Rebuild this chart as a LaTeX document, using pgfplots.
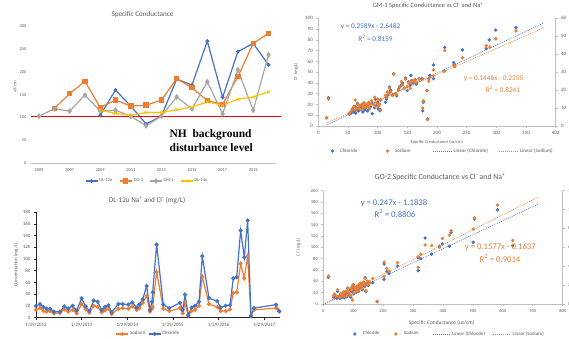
\documentclass[border=0pt]{standalone}
\usepackage{fontspec}
\setmainfont{Carlito}
\newfontfamily\nhfont{Liberation Serif}
\usepackage{pgfplots}
\usepackage{pgfplotstable}
\pgfplotsset{compat=1.18}

\definecolor{xblue}{HTML}{4472C4}
\definecolor{xorange}{HTML}{ED7D31}
\definecolor{xgray}{HTML}{A5A5A5}
\definecolor{xyellow}{HTML}{FFC000}
\definecolor{txt}{HTML}{595959}
\definecolor{lgray}{HTML}{BFBFBF}
\definecolor{xred}{HTML}{FF0000}

\newcommand\fs[1]{\fontsize{#1}{#1}\selectfont}

% OL-12u sampling record: time (decimal year, 2012 = 1/29/2012), chloride, sodium (mg/L)
\pgfplotstableread{
t cl na
2012.000 20 13
2012.088 23 16
2012.161 18 11
2012.234 15 10
2012.307 15 11
2012.394 10 7
2012.526 10 8
2012.620 19 14
2012.708 15 10
2012.803 20 13
2012.891 12 7
2013.000 33 23
2013.088 19 14
2013.168 11 8
2013.263 29 20
2013.350 27 18
2013.438 13 9
2013.511 18 12
2013.584 21 15
2013.657 9 6
2013.803 23 15
2013.898 23 16
2014.022 22 15
2014.109 26 19
2014.204 17 13
2014.263 22 16
2014.336 31 25
2014.423 54 37
2014.496 13 10
2014.540 27 15
2014.555 43 18
2014.642 125 78
2014.788 22 15
2014.920 16 11
2015.153 25 16
2015.212 13 7
2015.263 39 24
2015.336 4 3
2015.409 17 11
2015.482 20 13
2015.569 27 20
2015.642 105 70
2015.788 33 23
2015.970 28 18
2016.044 17 11
2016.154 20 11
2016.248 21 14
2016.320 67 42
2016.395 69 43
2016.482 149 92
2016.561 103 67
2016.635 166 105
2016.708 3 3
2016.774 16 13
2017.255 22 16
2017.327 11 10
}\olTable

% GM-1: specific conductance (us/cm) vs chloride (mg/L)
\pgfplotstableread{
sc cl
14 7.7
17 26.3
52 11
55 12
57 14
58 16
60 13
62 18
63 12
65 15
66 21
68 14
70 17
72 16
73 19
75 13
76 18
77 21
78 15
80 17
82 19
83 14
85 22
86 16
88 18
90 21
91 11.5
93 20
95 17
96 25
98 19
100 22
101 16
103 20
104 14
105 24
113 22
115 25
116 28
118 31
120 36
122 33
125 29
127 48.5
130 30
132 28
135 34
137 36
140 38
142 40
145 35
147 44.5
150 33
152 41
155 38
156 47
158 42
160 40
163 43
165 39
170 44
175 44
176 14
177 22
183 33
184 6.5
186 44
188 47
194 56.7
194 44
212 51
213 73
228 59
230 57
243 70.6
283 71.8
288 80
299 89
333 91.3
}\gmCl

% GM-1: specific conductance (us/cm) vs sodium (mg/L)
\pgfplotstableread{
sc na
14 4.6
17 15
52 7
55 8
57 9.5
60 11
62 14.5
63 9
65 10
66 12
68 10
70 11.5
72 9
73 12
75 11
76 10
77 13
78 12
80 10.5
82 12
83 11
85 13
86 10
88 12
90 14
93 12
95 16
96 11
98 13
100 15
101 11
103 12
105 9
105 14.5
113 17
115 16
116 19
118 18
120 21
122 19
125 17
127 28.8
130 18
132 17.5
135 20
137 22
140 24.8
142 23
145 21
147 26
150 22
152 24
155 21
156 25
158 24
160 25
163 26
165 24.5
170 26
175 26
176 10
177 14
183 19.6
184 3.6
186 25
188 27
194 31.2
194 28
212 30.5
213 42
228 34
230 33
243 38
283 44.7
289 44
299 48.6
333 53
}\gmNa

% GO-2: specific conductance (us/cm) vs chloride (mg/L)
\pgfplotstableread{
sc cl
16.7 47
35 12
38 15
45 10
48 22
50 13
55 10
58 16
62 12
65 14
68 19
70 11
72 16
75 20
78 13
80 22
82 28
85 18
88 15
90 25
92 12
95 22
97 30
100 34
100 26
102 18
105 28
108 24
110 21
112 30
115 26
118 22
120 32
122 28
125 36
128 30
130 25
132 34
135 38
138 31
140 46.5
142 22
145 35
148 40
150 33
155 38
165 37.6
180 4
203 70.6
203 43.5
212 57
220 54
248 67
317 58.8
317 81.8
326 80
340 116.5
362 88
388 102
398 106
421 102
427 126
501 109
505 150
582 166
633 103
}\goCl

% GO-2: specific conductance (us/cm) vs sodium (mg/L)
\pgfplotstableread{
sc na
16.7 29.6
35 9
38 10.5
45 8
48 15
50 8
55 7
58 11
62 8.5
65 10
68 13
70 8
72 12
75 13.5
78 9
80 14
82 17
85 12
88 10
90 16
92 9
95 15
97 18.5
98 4.2
100 20
102 12
105 17
108 15.5
110 13
112 19
115 16
118 14
120 21
122 18
125 22
128 19
130 16
132 21
135 23
138 20
140 27
142 14
145 22
148 24
150 21
155 23
165 27
180 2.8
203 44.5
203 29
212 37.8
220 35
248 43.8
317 38.8
317 50
326 52.6
340 62.5
362 62
388 60
398 69.5
421 73
427 77.6
501 79.4
505 91.4
582 104.8
633 67.4
}\goNa

\pgfplotsset{
  every axis/.append style={scale only axis,
    /pgf/number format/assume math mode=true},
  legline/.style={legend image code/.code={%
    \path[draw=none, fill=none] (0bp,-1bp) rectangle (12bp,1bp);
    \draw[mark repeat=2,mark phase=2] plot coordinates {(0bp,0bp) (6bp,0bp) (12bp,0bp)};}},
  trendimg/.style={legend image code/.code={\draw (0bp,0bp) -- (#1,0bp);}},
  flatlegend/.style={legend style={draw=none, fill=none, inner sep=0pt, outer sep=0pt,
    nodes={inner sep=0pt}, text=txt,
    /tikz/every even column/.append style={column sep=0pt}}},
  scatterpt/.style={only marks, mark=*, mark size=1.5bp, mark options={draw=#1, fill=#1}},
  trend/.style={#1, line width=0.6bp, dash pattern=on 1bp off 1bp},
}

\begin{document}
\begin{tikzpicture}[x=1bp,y=1bp]
\path[use as bounding box] (0bp,0bp) rectangle (569bp,339bp);

% ---------- Specific Conductance by well ----------
\begin{axis}[anchor=south west, at={(31.35bp,175.7bp)}, width=244.8bp, height=137.3bp,
  xmin=2004.5, xmax=2020.5, ymin=0, ymax=300,
  xtick={2005,2007,...,2019}, ytick={0,50,...,300},
  /pgf/number format/1000 sep={},
  axis x line=bottom, axis y line=left, axis line style={-},
  x axis line style={draw=lgray, line width=0.6bp}, y axis line style={draw=none},
  major tick length=0pt,
  tick label style={font=\fs{4.4}, text=txt},
  xticklabel style={yshift=-1.5bp}, yticklabel style={xshift=-1.5bp},
  clip=false, legline, flatlegend,
  legend columns=4,
  legend style={at={(0.219,-0.129)}, anchor=west, font=\fs{4.5}},
  legend entries={\makebox[21bp][l]{\hspace{1bp}OL-12u}, \makebox[17bp][l]{\hspace{1.5bp}GO-2},
    \makebox[18bp][l]{\hspace{1bp}GM-1}, \makebox[14bp][l]{\hspace{0.5bp}OL-14u}},
]
\addplot[xblue, line width=1.2bp, mark=*, mark size=1.3bp] coordinates {
  (2009,105) (2010,160) (2011,125) (2012,86) (2013,103) (2014,184) (2015,171)
  (2016,267) (2017,144) (2018,244) (2019,262) (2020,215)};
\addplot[xorange, line width=1.2bp, mark=square*, mark size=2.1bp] coordinates {
  (2006,120) (2007,152) (2008,179) (2009,122) (2010,138) (2011,125) (2012,127)
  (2013,138) (2014,185) (2015,165) (2016,137) (2017,129) (2018,189) (2019,262) (2020,284)};
\addplot[xgray, line width=1.2bp, mark=diamond*, mark size=2bp] coordinates {
  (2005,103) (2006,119) (2007,114) (2008,149) (2009,114) (2010,116) (2011,103)
  (2012,82) (2013,103) (2014,145) (2015,119) (2016,178) (2017,108) (2018,204)
  (2019,116) (2020,237)};
\addplot[xyellow, line width=1.2bp, mark=x, mark size=1.9bp, mark options={line width=0.8bp}] coordinates {
  (2009,116) (2010,109) (2011,105) (2012,111) (2013,111) (2014,117) (2015,123)
  (2016,134) (2017,127) (2018,140) (2019,145) (2020,156)};
% background disturbance level
\addplot[xred, line width=1.3bp, forget plot] coordinates {(2004.45,102) (2020.82,102)};
\end{axis}
\node[font=\fs{7.2}, text=txt] at (142.5bp,324.7bp) {Specific Conductance};
\node[font=\fs{4.5}, text=txt, rotate=90] at (15bp,252bp) {uS/cm};
\node[font=\nhfont\bfseries\fs{11.5}, anchor=west, inner sep=0pt] at (169.5bp,204bp) {NH\ \ background};
\node[font=\nhfont\bfseries\fs{11.5}, anchor=west, inner sep=0pt] at (169.5bp,191bp) {disturbance level};

% ---------- OL-12u sodium and chloride ----------
\begin{axis}[anchor=south west, at={(36bp,21.5bp)}, width=244.3bp, height=105.2bp,
  xmin=2012, xmax=2017.35, ymin=0, ymax=180,
  xtick={2012,...,2017},
  xticklabels={1/29/2012,1/29/2013,1/29/2014,1/29/2015,1/29/2016,1/29/2017},
  ytick={0,20,...,180},
  axis lines=left, axis line style={-, draw=black!85, line width=0.6bp},
  tick align=outside, major tick length=2bp, tick style={black!85, line width=0.6bp},
  tick label style={font=\fs{5}, text=txt},
  legline, flatlegend, legend columns=2,
  legend style={at={(0.327,-0.157)}, anchor=west, font=\fs{5}},
  legend entries={\makebox[19bp][l]{\hspace{1bp}Sodium}, \makebox[24bp][l]{\hspace{1bp}Chloride}},
]
\addplot[xorange, line width=1.2bp, mark=*, mark size=1.4bp] table[x=t, y=na] {\olTable};
\addplot[xblue, line width=1.2bp, mark=*, mark size=1.4bp] table[x=t, y=cl] {\olTable};
\end{axis}
\node[font=\fs{7.2}, text=txt] at (147bp,138.3bp) {OL-12u Na\textsuperscript{+} and Cl\textsuperscript{-} (mg/L)};
\node[font=\fs{5}, text=txt, rotate=90] at (16bp,74bp) {Concentration (mg/L)};

% ---------- GM-1 conductance vs chloride (left axis) ----------
\begin{axis}[anchor=south west, at={(318.3bp,213bp)}, width=237.4bp, height=107.7bp,
  xmin=0, xmax=400, ymin=0, ymax=100,
  xtick={0,50,...,400}, ytick={0,10,...,100},
  axis x line=bottom, axis y line=left, axis line style={-, draw=lgray, line width=0.6bp},
  tick align=outside, major tick length=2bp, tick style={lgray, line width=0.6bp},
  tick label style={font=\fs{5}, text=txt},
  legline, flatlegend, legend columns=4,
  legend style={at={(0.035,-0.232)}, anchor=west, font=\fs{5.1}},
  legend entries={\makebox[43bp][l]{\hspace{1.5bp}Chloride}, \makebox[39.5bp][l]{\hspace{1.5bp}Sodium},
    \makebox[47bp][l]{\hspace{1.5bp}Linear (Chloride)}, \makebox[40bp][l]{\hspace{2bp}Linear (Sodium)}},
]
\addplot[scatterpt=xblue] table[x=sc, y=cl] {\gmCl};
\addlegendimage{scatterpt=xorange}
\addplot[trend=xblue, trendimg=18.4bp] coordinates {(14,0.9764) (380,95.7338)};
\addlegendimage{trend=xorange, trendimg=18.4bp}
\end{axis}
% ---------- GM-1 conductance vs sodium (right axis) ----------
\begin{axis}[anchor=south west, at={(318.3bp,213bp)}, width=237.4bp, height=107.7bp,
  xmin=0, xmax=400, ymin=0, ymax=60, ytick={0,10,...,60},
  axis x line=none, axis y line=right, axis line style={-, draw=lgray, line width=0.6bp},
  tick align=outside, major tick length=2bp, tick style={lgray, line width=0.6bp},
  tick label style={font=\fs{5}, text=txt},
]
\addplot[scatterpt=xorange] table[x=sc, y=na] {\gmNa};
\addplot[trend=xorange] coordinates {(14,1.7889) (380,54.7125)};
\end{axis}
\node[font=\fs{6.5}, text=txt] at (428bp,333.3bp) {GM-1 Specific Conductance vs Cl\textsuperscript{-} and Na\textsuperscript{+}};
\node[font=\fs{4.4}, text=txt] at (436.7bp,196.7bp) {Specific Conductance (us/cm)};
\node[font=\fs{4.4}, text=txt, rotate=90] at (296bp,267.3bp) {Cl\textsuperscript{-} (mg/L)};
\node[font=\fs{7.3}, text=xblue] at (370.5bp,312.3bp) {y = 0.2589x - 2.6482};
\node[font=\fs{7.3}, text=xblue] at (375.5bp,301bp) {R\textsuperscript{2} = 0.8159};
\node[font=\fs{7.3}, text=xorange] at (493.5bp,260bp) {y = 0.1446x - 0.2355};
\node[font=\fs{7.3}, text=xorange] at (503bp,249.7bp) {R\textsuperscript{2} = 0.8241};

% ---------- GO-2 conductance vs chloride (left axis) ----------
\begin{axis}[anchor=south west, at={(323.3bp,35bp)}, width=239.4bp, height=113.3bp,
  xmin=0, xmax=800, ymin=0, ymax=200,
  xtick={0,100,...,800}, ytick={0,20,...,200},
  axis x line=bottom, axis y line=left, axis line style={-, draw=lgray, line width=0.6bp},
  tick align=outside, major tick length=2bp, tick style={lgray, line width=0.6bp},
  tick label style={font=\fs{4.5}, text=txt},
  legline, flatlegend, legend columns=4,
  legend style={at={(0.107,-0.265)}, anchor=west, font=\fs{4.9}},
  legend entries={\makebox[29bp][l]{\hspace{2bp}Chloride}, \makebox[30.5bp][l]{\hspace{2bp}Sodium},
    \makebox[43bp][l]{\hspace{2.5bp}Linear (Chloride)}, \makebox[40bp][l]{\hspace{2.5bp}Linear (Sodium)}},
]
\addplot[scatterpt=xblue] table[x=sc, y=cl] {\goCl};
\addlegendimage{scatterpt=xorange}
\addplot[trend=xblue, trendimg=16.7bp] coordinates {(0,-1.1838) (720,176.6562)};
\addlegendimage{trend=xorange, trendimg=16.7bp}
\end{axis}
% ---------- GO-2 conductance vs sodium (right axis) ----------
\begin{axis}[anchor=south west, at={(323.3bp,35bp)}, width=239.4bp, height=113.3bp,
  xmin=0, xmax=800, ymin=0, ymax=120, ytick={0,20,...,120},
  axis x line=none, axis y line=right, axis line style={-, draw=lgray, line width=0.6bp},
  tick align=outside, major tick length=2bp, tick style={lgray, line width=0.6bp},
  tick label style={font=\fs{4.5}, text=txt},
]
\addplot[scatterpt=xorange] table[x=sc, y=na] {\goNa};
\addplot[trend=xorange] coordinates {(0,-0.1637) (720,113.3803)};
\end{axis}
\node[font=\fs{7.8}, text=txt] at (440bp,161.7bp) {GO-2 Specific Conductance vs Cl\textsuperscript{-} and Na\textsuperscript{+}};
\node[font=\fs{5.5}, text=txt] at (441.7bp,15.7bp) {Specific Conductance (us/cm)};
\node[font=\fs{4.5}, text=txt, rotate=90] at (298.3bp,92bp) {Cl\textsuperscript{-} (mg/L)};
\node[font=\fs{8.7}, text=xblue] at (394bp,135.7bp) {y = 0.247x - 1.1838};
\node[font=\fs{8.7}, text=xblue] at (395bp,125.7bp) {R\textsuperscript{2} = 0.8806};
\node[font=\fs{8.7}, text=xorange] at (500.3bp,91.3bp) {y = 0.1577x - 0.1637};
\node[font=\fs{8.7}, text=xorange] at (500bp,80.7bp) {R\textsuperscript{2} = 0.9014};
\end{tikzpicture}
\end{document}
